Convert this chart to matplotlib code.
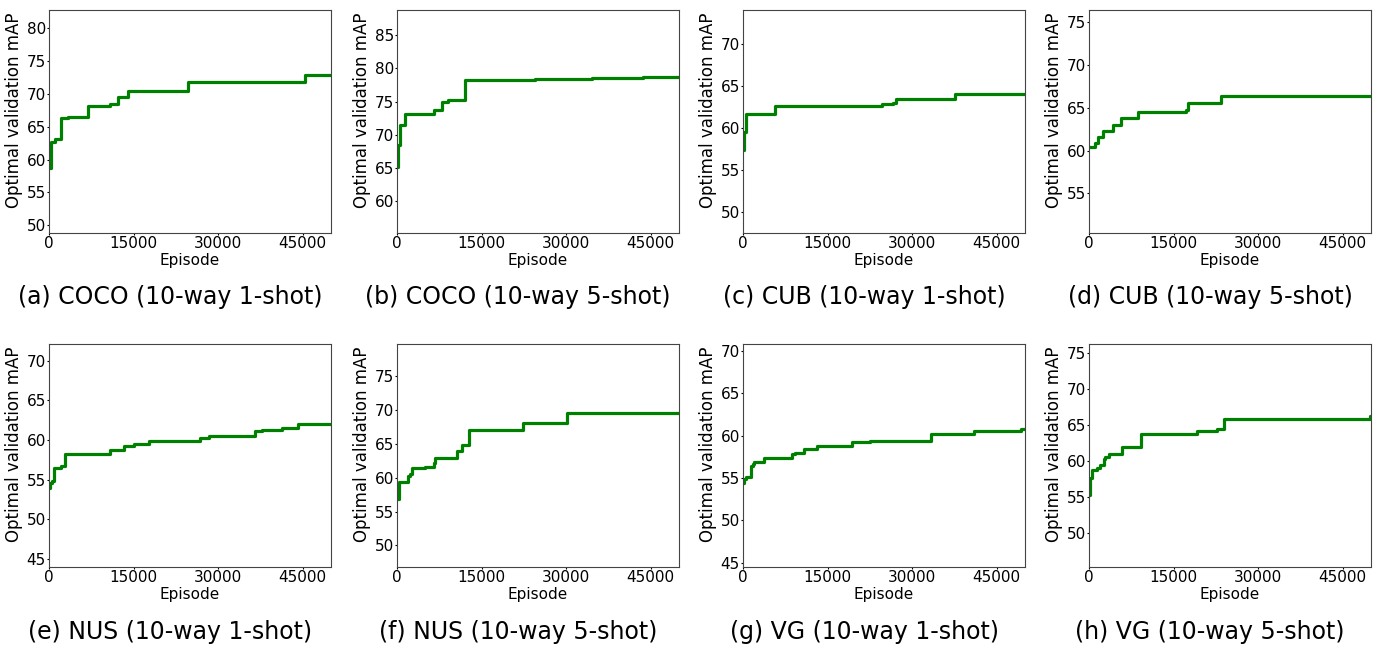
import matplotlib
matplotlib.use('Agg')
import matplotlib.pyplot as plt

############## Data (episode where the best mAP changes, and the new best mAP)

coco_1shot_ep = [0, 400, 1000, 2200, 3400, 6900, 10900, 12300, 14000, 24700, 45400, 50000]
coco_1shot_map = [58.7, 62.6, 63.2, 66.3, 66.5, 68.2, 68.5, 69.6, 70.5, 71.8, 72.9, 72.9]

coco_5shot_ep = [0, 150, 500, 1400, 6500, 8000, 9100, 12100, 24500, 34600, 43700, 50000]
coco_5shot_map = [65.2, 68.4, 71.4, 73.2, 73.8, 75.0, 75.2, 78.2, 78.4, 78.6, 78.7, 78.7]

cub_1shot_ep = [0, 200, 600, 5700, 24600, 26600, 27200, 37500, 50000]
cub_1shot_map = [57.4, 59.5, 61.7, 62.6, 62.8, 63.0, 63.4, 64.0, 64.0]

cub_5shot_ep = [0, 1000, 1600, 2400, 4300, 5600, 8700, 17200, 17500, 23400, 50000]
cub_5shot_map = [60.4, 60.9, 61.6, 62.3, 63.0, 63.8, 64.5, 64.7, 65.5, 66.3, 66.3]

nus_1shot_ep = [0, 200, 500, 900, 2200, 2900, 10900, 13300, 15100, 17700, 26800,
                28400, 36500, 37800, 41300, 44200, 50000]
nus_1shot_map = [54.0, 54.6, 54.8, 56.5, 56.7, 58.3, 58.7, 59.2, 59.5, 59.9, 60.3,
                 60.5, 61.1, 61.3, 61.5, 62.0, 62.0]

nus_5shot_ep = [0, 300, 2000, 2300, 2700, 5000, 6500, 6800, 10700, 11600, 12700,
                22300, 30100, 50000]
nus_5shot_map = [56.8, 59.3, 60.3, 60.6, 61.4, 61.6, 62.2, 62.9, 63.9, 64.8, 67.1,
                 68.1, 69.6, 69.6]

vg_1shot_ep = [0, 200, 600, 1400, 1700, 2000, 3700, 8400, 8700, 9200, 10900, 13200,
               19300, 22600, 33300, 40900, 49300, 50000]
vg_1shot_map = [54.4, 54.9, 55.1, 56.4, 56.6, 56.9, 57.3, 57.4, 57.8, 57.9, 58.4, 58.8,
                59.3, 59.4, 60.2, 60.5, 60.8, 60.8]

vg_5shot_ep = [0, 200, 500, 1400, 1900, 2600, 2800, 3500, 5900, 9200, 19200, 22700,
               23900, 49800, 50000]
vg_5shot_map = [55.3, 57.6, 58.7, 59.0, 59.5, 60.3, 60.6, 61.0, 62.0, 63.7, 64.2, 64.5,
                65.8, 66.2, 66.2]

captions = ['(a) COCO (10-way 1-shot)', '(b) COCO (10-way 5-shot)',
            '(c) CUB (10-way 1-shot)', '(d) CUB (10-way 5-shot)',
            '(e) NUS (10-way 1-shot)', '(f) NUS (10-way 5-shot)',
            '(g) VG (10-way 1-shot)', '(h) VG (10-way 5-shot)']

y_limits = [(48.8, 82.8), (55.25, 88.75), (47.5, 74.0), (50.4, 76.35),
            (44.0, 72.1), (46.8, 79.75), (44.5, 70.8), (45.3, 76.25)]

y_ticks = [[50, 55, 60, 65, 70, 75, 80], [60, 65, 70, 75, 80, 85],
           [50, 55, 60, 65, 70], [55, 60, 65, 70, 75],
           [45, 50, 55, 60, 65, 70], [50, 55, 60, 65, 70, 75],
           [45, 50, 55, 60, 65, 70], [50, 55, 60, 65, 70, 75]]

series = [(coco_1shot_ep, coco_1shot_map), (coco_5shot_ep, coco_5shot_map),
          (cub_1shot_ep, cub_1shot_map), (cub_5shot_ep, cub_5shot_map),
          (nus_1shot_ep, nus_1shot_map), (nus_5shot_ep, nus_5shot_map),
          (vg_1shot_ep, vg_1shot_map), (vg_5shot_ep, vg_5shot_map)]

##############

W, H = 1378, 645
fig = plt.figure(figsize=(W / 100, H / 100), dpi=100)

col_left = [49, 397, 743, 1089]
row_top = [10, 344]
ax_w, ax_h = 282, 223

for i, (eps, vals) in enumerate(series):
    row, col = divmod(i, 4)
    left = col_left[col]
    top = row_top[row]
    ax = fig.add_axes([left / W, 1 - (top + ax_h) / H, ax_w / W, ax_h / H])
    ax.step(eps, vals, where='post', color='green', linewidth=2.3)
    ax.set_xlim(0, 50000)
    ax.set_ylim(*y_limits[i])
    ax.set_xticks([0, 15000, 30000, 45000])
    ax.set_yticks(y_ticks[i])
    ax.tick_params(labelsize=11, length=1.5, pad=0.8)
    for sp in ax.spines.values():
        sp.set_color('#444444')
    ax.set_xlabel('Episode', fontsize=11, labelpad=1)
    ax.set_ylabel('Optimal validation mAP', fontsize=12)
    ax.yaxis.set_label_coords(-0.092, 0.55)
    cap_y = 297 if row == 0 else 632
    fig.text((left + ax_w / 2 - 20) / W, 1 - cap_y / H, captions[i],
             fontsize=17, ha='center', va='center')

fig.savefig('out.png', dpi=100)
